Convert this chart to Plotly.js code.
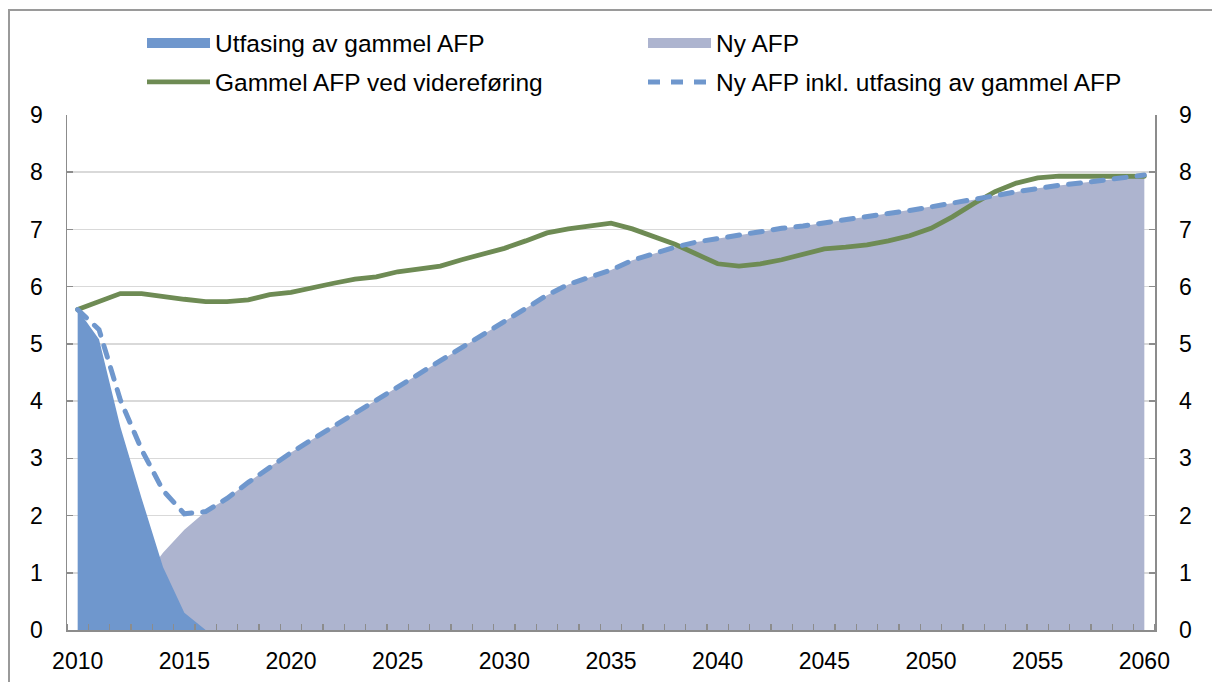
<!DOCTYPE html>
<html><head><meta charset="utf-8">
<script src="https://cdn.plot.ly/plotly-3.0.1.min.js"></script>
<style>
html,body{margin:0;padding:0;background:#fff;}
#wrap{position:relative;width:1212px;height:682px;overflow:hidden;}
#chart{position:absolute;left:0;top:0;width:1212px;height:682px;}
#frame{position:absolute;left:8px;top:9px;width:1400px;height:900px;border-left:2px solid #9a9a9a;border-top:2px solid #9a9a9a;pointer-events:none;}
.scatterlayer .js-line{stroke-linecap:round;}
</style></head>
<body><div id="wrap"><div id="chart"></div><div id="frame"></div></div>
<script>
const years = [2010,2011,2012,2013,2014,2015,2016,2017,2018,2019,
  2020,2021,2022,2023,2024,2025,2026,2027,2028,2029,
  2030,2031,2032,2033,2034,2035,2036,2037,2038,2039,
  2040,2041,2042,2043,2044,2045,2046,2047,2048,2049,
  2050,2051,2052,2053,2054,2055,2056,2057,2058,2059,2060];

const tickYears = [2010,2015,2020,2025,2030,2035,2040,2045,2050,2055,2060];
const tickLabels = ["2010","2015","2020","2025","2030","2035","2040","2045","2050","2055","2060"];

const seriesNames = ["Utfasing av gammel AFP","Ny AFP","Gammel AFP ved videreføring","Ny AFP inkl. utfasing av gammel AFP"];

// Utfasing av gammel AFP (2010-2016)
const utfasing = [5.60,5.08,3.55,2.30,1.10,0.30,0.00];

// Ny AFP
const nyAfp = [0.00,0.14,0.45,0.85,1.35,1.75,2.07,2.30,2.58,2.85,
  3.10,3.33,3.56,3.79,4.02,4.24,4.48,4.71,4.93,5.17,
  5.40,5.63,5.85,6.04,6.17,6.29,6.46,6.58,6.69,6.78,
  6.84,6.91,6.97,7.02,7.06,7.12,7.17,7.22,7.28,7.33,
  7.39,7.45,7.52,7.59,7.66,7.72,7.77,7.81,7.85,7.90,7.95];

// Gammel AFP ved videreføring
const gammel = [5.60,5.75,5.88,5.88,5.82,5.78,5.74,5.74,5.77,5.86,
  5.90,5.99,6.06,6.13,6.17,6.26,6.32,6.36,6.47,6.57,
  6.67,6.80,6.94,7.01,7.07,7.11,7.01,6.88,6.74,6.57,
  6.40,6.36,6.40,6.47,6.56,6.66,6.69,6.73,6.80,6.89,
  7.02,7.22,7.45,7.66,7.81,7.90,7.93,7.93,7.93,7.93,7.93];

// Ny AFP inkl. utfasing av gammel AFP
const nyInkl = [5.60,5.25,4.02,3.15,2.44,2.03,2.07,2.30,2.58,2.85,
  3.10,3.33,3.56,3.79,4.02,4.24,4.48,4.71,4.93,5.17,
  5.40,5.63,5.85,6.04,6.17,6.29,6.46,6.58,6.69,6.78,
  6.84,6.91,6.97,7.02,7.06,7.12,7.17,7.22,7.28,7.33,
  7.39,7.45,7.52,7.59,7.66,7.72,7.77,7.81,7.85,7.90,7.95];

const colBlue = '#6f97cd', colPurple = '#adb4cf', colGreen = '#6e8b54';
const axisCol = '#8c8c8c';
const FONT = 'Liberation Sans, Arial, sans-serif';

const traces = [
  {x: years.slice(0, nyAfp.length), y: nyAfp, type:'scatter', mode:'lines', fill:'tozeroy',
   fillcolor: colPurple, line:{width:0, color: colPurple}, showlegend:false, name: seriesNames[1], hoverinfo:'skip'},
  {x: years.slice(0, utfasing.length), y: utfasing, type:'scatter', mode:'lines', fill:'tozeroy',
   fillcolor: colBlue, line:{width:0, color: colBlue}, showlegend:false, name: seriesNames[0], hoverinfo:'skip'},
  {x: years, y: gammel, type:'scatter', mode:'lines', name: seriesNames[2],
   line:{color: colGreen, width:4.8}, legend:'legend2'},
  {x: years, y: nyInkl, type:'scatter', mode:'lines', name: seriesNames[3], yaxis:'y2',
   line:{color: colBlue, width:5, dash:'12px,11px'}, legend:'legend4'},
  // legend swatches for the two areas
  {x:[null], y:[null], type:'scatter', mode:'lines', name: seriesNames[0],
   line:{color: colBlue, width:10}, legend:'legend'},
  {x:[null], y:[null], type:'scatter', mode:'lines', name: seriesNames[1],
   line:{color: colPurple, width:10}, legend:'legend3'}
];

const legendBase = {
  orientation:'h', xref:'container', yref:'container', xanchor:'left',
  yanchor:'middle', itemwidth: 63,
  font:{family: FONT, size: 24.5, color:'#000'}, bgcolor:'rgba(0,0,0,0)', borderwidth:0,
  itemclick:false, itemdoubleclick:false
};
const col1 = 142/1212, col2 = 643/1212, row1 = 1 - 43/682, row2 = 1 - 82/682;

const yBase = {
  range:[0,9], tick0:0, dtick:1, tickmode:'linear',
  showline:true, linecolor: axisCol, linewidth:1.5,
  ticks:'inside', ticklen:6, tickwidth:1.5, tickcolor: axisCol,
  tickfont:{family: FONT, size:23, color:'#000'},
  zeroline:false, fixedrange:true, ticklabelstandoff: 18
};

const layout = {
  width:1212, height:682,
  margin:{l:67, r:57, t:115, b:52},
  paper_bgcolor:'#fff', plot_bgcolor:'#fff',
  font:{family: FONT, color:'#000'},
  showlegend:true,
  legend: Object.assign({}, legendBase, {x: col1, y: row1}),
  legend2: Object.assign({}, legendBase, {x: col1, y: row2}),
  legend3: Object.assign({}, legendBase, {x: col2, y: row1}),
  legend4: Object.assign({}, legendBase, {x: col2, y: row2}),
  xaxis:{
    range:[2009.5, 2060.5], tickmode:'array', tickvals: tickYears, ticktext: tickLabels,
    ticks:'', showline:true, linecolor: axisCol, linewidth:1.5, showgrid:false, zeroline:false,
    tickfont:{family: FONT, size:23, color:'#000'}, ticklabelstandoff: 10,
    minor:{ticks:'inside', ticklen:6, tickwidth:1.5, tickcolor: axisCol, tick0:2009.5, dtick:1, showgrid:false},
    fixedrange:true
  },
  yaxis: Object.assign({}, yBase, {showgrid:true, gridcolor:'#d9d9d9', gridwidth:1.5}),
  yaxis2: Object.assign({}, yBase, {overlaying:'y', side:'right', showgrid:false})
};

Plotly.newPlot('chart', traces, layout, {displayModeBar:false, staticPlot:true});
</script>
</body></html>
